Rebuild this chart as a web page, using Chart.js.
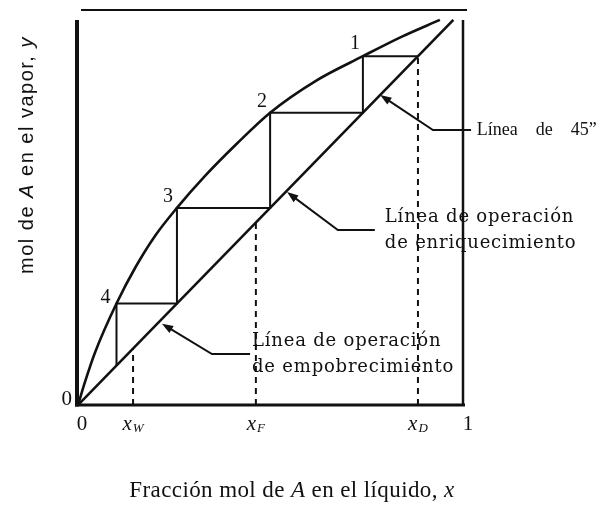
<!DOCTYPE html>
<html>
<head>
<meta charset="utf-8">
<script src="https://cdn.jsdelivr.net/npm/chart.js@4/dist/chart.umd.min.js"></script>
<style>
  html, body { margin: 0; padding: 0; background: #fff; }
  #wrap { width: 601px; height: 509px; position: relative; }
</style>
</head>
<body>
<div id="wrap"><canvas id="mccabeChart"></canvas></div>
<script>
// equilibrium curve, y vs x
eqX = [0, 0.018, 0.045, 0.1, 0.15, 0.2, 0.257, 0.33, 0.413, 0.499, 0.62, 0.74, 0.84, 0.94];
eqY = [0, 0.058, 0.135, 0.257, 0.35, 0.428, 0.499, 0.58, 0.662, 0.74, 0.822, 0.883, 0.932, 0.975];

// 45 degree line (also the operating lines here)
diagX = [0, 0.975];

// staircase between curve and line, starting at xD
stepX = [0.883, 0.74, 0.74, 0.499, 0.499, 0.257, 0.257, 0.1, 0.1];
stepY = [0.883, 0.883, 0.74, 0.74, 0.499, 0.499, 0.257, 0.257, 0.1];

// numbered stages
stageX = [0.74, 0.499, 0.257, 0.1];
stageY = [0.883, 0.74, 0.499, 0.257];
stageLabels = ["1", "2", "3", "4"];

// compositions marked on the x axis
compX = [0.143, 0.462, 0.883];
compLabels = [["x", "W"], ["x", "F"], ["x", "D"]];

// plain end ticks
endTicks = [0, 1];
endTickLabels = ["0", "1"];

// leader arrows: tip on the line, elbow, end of horizontal run, text lines
leaders = [
  { tip: [0.785, 0.785], elbow: [0.922, 0.696], end: 1.021, text: ["Línea    de    45\u201D"], font: "18px 'Liberation Serif'", spacing: 0, textX: 1.036 },
  { tip: [0.543, 0.539], elbow: [0.675, 0.443], end: 0.771, text: ["Línea de operación", "de enriquecimiento"], font: "18px 'DejaVu Serif'", spacing: 0.8, textX: 0.797 },
  { tip: [0.218, 0.206], elbow: [0.348, 0.129], end: 0.447, text: ["Línea de operación", "de empobrecimiento"], font: "18px 'DejaVu Serif'", spacing: 0.8, textX: 0.452 },
];

function pts(xs, ys) {
  return xs.map((x, i) => ({ x: x, y: ys[i] }));
}

function lineSet(data, width, dash) {
  return {
    data: data,
    showLine: true,
    borderColor: "#111",
    borderWidth: width,
    borderDash: dash || [],
    pointRadius: 0,
    fill: false,
  };
}

datasets = [];
datasets.push(Object.assign(lineSet(pts(eqX, eqY), 2.6), { cubicInterpolationMode: "monotone" }));
datasets.push(lineSet(pts(diagX, diagX), 2.6));
datasets.push(lineSet(pts(stepX, stepY), 2));
compX.forEach((x) => datasets.push(lineSet(pts([x, x], [0, x]), 2, [6, 5])));

function txt(ctx, s, x, y, font, align, base, spacing) {
  ctx.font = font;
  ctx.letterSpacing = (spacing || 0) + "px";
  ctx.textAlign = align || "left";
  ctx.textBaseline = base || "middle";
  ctx.fillText(s, x, y);
  const w = ctx.measureText(s).width;
  ctx.letterSpacing = "0px";
  return w;
}

// text made of plain and italic pieces, centred on cx
function mixed(ctx, parts, cx, y, size, family, spacing) {
  let total = 0;
  parts.forEach((p) => {
    ctx.font = p[1] + size + "px " + family;
    ctx.letterSpacing = spacing + "px";
    total += ctx.measureText(p[0]).width;
  });
  let x = cx - total / 2;
  parts.forEach((p) => {
    x += txt(ctx, p[0], x, y, p[1] + size + "px " + family, "left", "alphabetic", spacing);
  });
}

const decorations = {
  id: "decorations",
  afterDatasetsDraw(chart) {
    const ctx = chart.ctx;
    const a = chart.chartArea;
    const xs = chart.scales.x;
    const ys = chart.scales.y;
    ctx.save();
    ctx.strokeStyle = "#111";
    ctx.fillStyle = "#111";
    ctx.lineCap = "butt";

    // frame
    ctx.lineWidth = 4;
    ctx.beginPath(); ctx.moveTo(a.left - 1, a.top + 10); ctx.lineTo(a.left - 1, a.bottom + 1.5); ctx.stroke();
    ctx.lineWidth = 3;
    ctx.beginPath(); ctx.moveTo(a.left - 3, a.bottom); ctx.lineTo(a.right + 2, a.bottom); ctx.stroke();
    ctx.lineWidth = 2.5;
    ctx.beginPath(); ctx.moveTo(a.right, a.top + 10); ctx.lineTo(a.right, a.bottom); ctx.stroke();
    ctx.lineWidth = 2;
    ctx.beginPath(); ctx.moveTo(a.left + 3, a.top); ctx.lineTo(a.right + 4, a.top); ctx.stroke();

    // tick labels
    endTicks.forEach((v, i) => {
      txt(ctx, endTickLabels[i], xs.getPixelForValue(v) + (i === 0 ? 4 : 5), a.bottom + 19, "21px 'Liberation Serif'", "center");
    });
    txt(ctx, "0", a.left - 6, ys.getPixelForValue(0) - 6, "21px 'Liberation Serif'", "right");
    compX.forEach((v, i) => {
      const px = xs.getPixelForValue(v);
      ctx.font = "italic 21px 'Liberation Serif'";
      const w1 = ctx.measureText(compLabels[i][0]).width;
      ctx.font = "italic 13px 'Liberation Serif'";
      const w2 = ctx.measureText(compLabels[i][1]).width;
      const x0 = px - (w1 + w2 + 1) / 2;
      txt(ctx, compLabels[i][0], x0, a.bottom + 19, "italic 21px 'Liberation Serif'");
      txt(ctx, compLabels[i][1], x0 + w1 + 1, a.bottom + 24, "italic 13px 'Liberation Serif'");
    });

    // stage numbers, sitting just left of the curve
    const nudge = [[-3, -2], [-3, -1], [-4, -1], [-6, 4]];
    stageX.forEach((v, i) => {
      txt(ctx, stageLabels[i], xs.getPixelForValue(v) + nudge[i][0], ys.getPixelForValue(stageY[i]) + nudge[i][1], "20px 'Liberation Serif'", "right", "bottom");
    });

    // leader arrows and their labels
    leaders.forEach((l) => {
      const tx = xs.getPixelForValue(l.tip[0]), ty = ys.getPixelForValue(l.tip[1]);
      const ex = xs.getPixelForValue(l.elbow[0]), ey = ys.getPixelForValue(l.elbow[1]);
      const hx = xs.getPixelForValue(l.end);
      const ang = Math.atan2(ty - ey, tx - ex);
      ctx.lineWidth = 2;
      ctx.beginPath();
      ctx.moveTo(tx - Math.cos(ang) * 8, ty - Math.sin(ang) * 8);
      ctx.lineTo(ex, ey);
      ctx.lineTo(hx, ey);
      ctx.stroke();
      ctx.beginPath();
      ctx.moveTo(tx, ty);
      ctx.lineTo(tx - Math.cos(ang - 0.35) * 12, ty - Math.sin(ang - 0.35) * 12);
      ctx.lineTo(tx - Math.cos(ang + 0.35) * 12, ty - Math.sin(ang + 0.35) * 12);
      ctx.closePath();
      ctx.fill();
      const lx = xs.getPixelForValue(l.textX);
      l.text.forEach((s, j) => {
        const yy = l.text.length === 1 ? ey : ey - 13 + j * 26;
        txt(ctx, s, lx, yy, l.font, "left", "middle", l.spacing);
      });
    });

    // axis titles
    mixed(ctx, [["Fracción mol de ", ""], ["A", "italic "], [" en el líquido, ", ""], ["x", "italic "]],
      292, 497, 23, "'Liberation Serif'", 0.4);

    ctx.translate(33, 155);
    ctx.rotate(-Math.PI / 2);
    mixed(ctx, [["mol de ", ""], ["A", "italic "], [" en el vapor, ", ""], ["y", "italic "]],
      0, 0, 20, "'Liberation Sans'", 1.5);
    ctx.restore();
  },
};

mccabeChart = new Chart(document.getElementById("mccabeChart"), {
  type: "scatter",
  data: { datasets: datasets },
  options: {
    responsive: true,
    maintainAspectRatio: false,
    animation: false,
    layout: { padding: { left: 78, right: 138, top: 10, bottom: 104 } },
    plugins: { legend: { display: false }, tooltip: { enabled: false } },
    scales: {
      x: { type: "linear", min: 0, max: 1, display: false },
      y: { type: "linear", min: 0, max: 1, display: false },
    },
  },
  plugins: [decorations],
});
</script>
</body>
</html>
